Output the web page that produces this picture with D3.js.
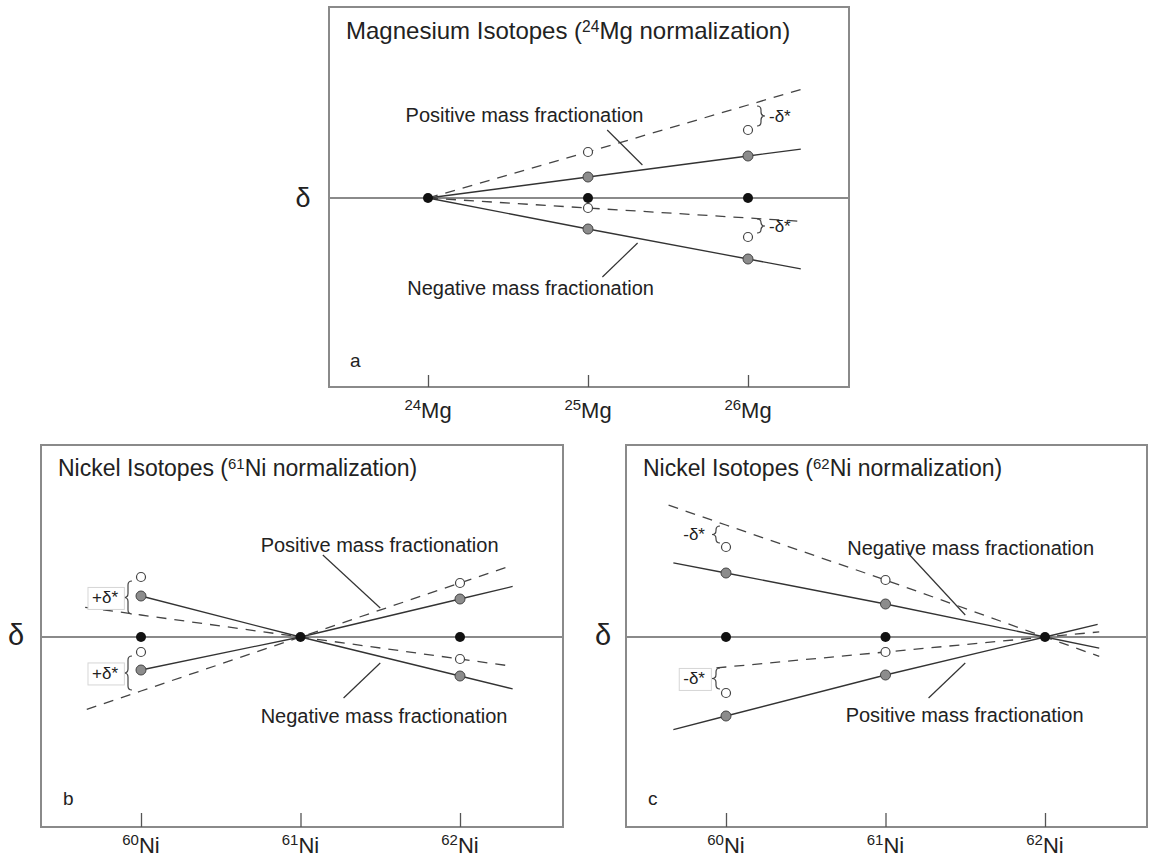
<!DOCTYPE html>
<html>
<head>
<meta charset="utf-8">
<script src="https://cdn.jsdelivr.net/npm/d3@7"></script>
<style>
  body { margin: 0; background: #fff; }
  text { font-family: "Liberation Sans", Arial, Helvetica, sans-serif; fill: #222; }
</style>
</head>
<body>
<svg id="fig" width="1149" height="858"></svg>
<script>
// ---------- isotopes and tick labels ----------
const mgIsotopes = [24, 25, 26];
const niIsotopes = [60, 61, 62];
const mgTickLabels = [["24", "Mg"], ["25", "Mg"], ["26", "Mg"]];
const niTickLabels = [["60", "Ni"], ["61", "Ni"], ["62", "Ni"]];

// ---------- panel a: 24Mg normalization (delta, arbitrary units) ----------
const aReference      = [0, 0, 0];
const aPositiveSolid  = [0, 2.1, 4.2];
const aPositiveDashed = [0, 4.6, 9.3];
const aPositiveOpen   = [null, 4.6, 6.8];
const aNegativeDashed = [0, -1.0, -2.0];
const aNegativeOpen   = [null, -1.0, -3.9];
const aNegativeSolid  = [0, -3.1, -6.1];

// ---------- panel b: 61Ni normalization ----------
const bReference      = [0, 0, 0];
const bNegativeSolid  = [4.1, 0, -3.9];
const bNegativeDashed = [2.2, 0, -2.2];
const bNegativeOpen   = [6.0, null, -2.2];
const bPositiveSolid  = [-3.3, 0, 3.8];
const bPositiveDashed = [-5.4, 0, 5.4];
const bPositiveOpen   = [-1.5, null, 5.4];

// ---------- panel c: 62Ni normalization ----------
const cReference      = [0, 0, 0];
const cNegativeSolid  = [6.4, 3.3, 0];
const cNegativeDashed = [11.2, 5.7, 0];
const cNegativeOpen   = [9.0, 5.7, null];
const cPositiveSolid  = [-7.9, -3.8, 0];
const cPositiveDashed = [-3.0, -1.5, 0];
const cPositiveOpen   = [-5.6, -1.5, null];

// ---------- panel layout ----------
const panels = [
  {
    box: { x0: 329, y0: 7, x1: 849, y1: 387 },
    xRange: [428, 748], baseY: 198, refIndex: 0,
    isotopes: mgIsotopes, tickLabels: mgTickLabels, tickLen: 12, tickLabelDy: 31,
    title: { pre: "Magnesium Isotopes (", sup: "24", post: "Mg normalization)", x: 346, y: 39, size: 24 },
    delta: { x: 303, y: 207, size: 27 },
    letter: { text: "a", x: 350, y: 367 },
    reference: aReference,
    lines: [
      { values: aPositiveSolid, extent: [24, 26.33] },
      { values: aPositiveDashed, extent: [24, 26.33], dashed: true },
      { values: aNegativeDashed, extent: [24, 26.33], dashed: true },
      { values: aNegativeSolid, extent: [24, 26.33] }
    ],
    open: [aPositiveOpen, aNegativeOpen],
    brackets: [
      { i: 2, open: aPositiveOpen, line: aPositiveDashed, dir: 1, dx: 9, text: "-δ*", tdx: 21, boxed: false },
      { i: 2, open: aNegativeOpen, line: aNegativeDashed, dir: 1, dx: 9, text: "-δ*", tdx: 21, boxed: false }
    ],
    notes: [
      { text: "Positive mass fractionation", at: [23.86, 7.6], leader: [[25.12, 6.8], [25.34, 3.3]] },
      { text: "Negative mass fractionation", at: [23.87, -9.7], leader: [[25.09, -7.9], [25.31, -4.5]] }
    ]
  },
  {
    box: { x0: 41, y0: 445, x1: 563, y1: 827 },
    xRange: [141, 460], baseY: 637, refIndex: 1,
    isotopes: niIsotopes, tickLabels: niTickLabels, tickLen: 14, tickLabelDy: 26,
    title: { pre: "Nickel Isotopes (", sup: "61", post: "Ni normalization)", x: 58, y: 476, size: 23 },
    delta: { x: 16, y: 645, size: 29 },
    letter: { text: "b", x: 63, y: 805 },
    reference: bReference,
    lines: [
      { values: bNegativeSolid, extent: [60, 62.33] },
      { values: bNegativeDashed, extent: [59.65, 62.33], dashed: true },
      { values: bPositiveSolid, extent: [60, 62.33] },
      { values: bPositiveDashed, extent: [59.66, 62.33], dashed: true }
    ],
    open: [bNegativeOpen, bPositiveOpen],
    brackets: [
      { i: 0, open: bNegativeOpen, line: bNegativeDashed, dir: -1, dx: -9, text: "+δ*", tdx: -23, boxed: true },
      { i: 0, open: bPositiveOpen, line: bPositiveDashed, dir: -1, dx: -9, text: "+δ*", tdx: -23, boxed: true }
    ],
    notes: [
      { text: "Positive mass fractionation", at: [60.75, 8.5], leader: [[61.14, 8.2], [61.5, 2.9]] },
      { text: "Negative mass fractionation", at: [60.75, -8.6], leader: [[61.27, -6.1], [61.5, -2.6]] }
    ]
  },
  {
    box: { x0: 626, y0: 445, x1: 1147, y1: 827 },
    xRange: [726, 1045], baseY: 637, refIndex: 2,
    isotopes: niIsotopes, tickLabels: niTickLabels, tickLen: 14, tickLabelDy: 26,
    title: { pre: "Nickel Isotopes (", sup: "62", post: "Ni normalization)", x: 643, y: 476, size: 23 },
    delta: { x: 603, y: 645, size: 29 },
    letter: { text: "c", x: 648, y: 805 },
    reference: cReference,
    lines: [
      { values: cNegativeSolid, extent: [59.67, 62.34] },
      { values: cNegativeDashed, extent: [59.64, 62.34], dashed: true },
      { values: cPositiveSolid, extent: [59.67, 62.33] },
      { values: cPositiveDashed, extent: [59.94, 62.34], dashed: true }
    ],
    open: [cNegativeOpen, cPositiveOpen],
    brackets: [
      { i: 0, open: cNegativeOpen, line: cNegativeDashed, dir: -1, dx: -6, text: "-δ*", tdx: -21, boxed: false },
      { i: 0, open: cPositiveOpen, line: cPositiveDashed, dir: -1, dx: -6, text: "-δ*", tdx: -21, boxed: true }
    ],
    notes: [
      { text: "Negative mass fractionation", at: [60.76, 8.2], leader: [[61.14, 8.4], [61.5, 2.2]] },
      { text: "Positive mass fractionation", at: [60.75, -8.5], leader: [[61.27, -6.1], [61.5, -2.6]] }
    ]
  }
];

const svg = d3.select("#fig");
const FRAME = "#8a8a8a";
const INK = "#333";

// vertical curly brace; dir = 1 points right "}", dir = -1 points left "{"
function brace(x, y1, y2, dir) {
  const w = 4 * dir, mid = (y1 + y2) / 2;
  const r = Math.min(4, Math.abs(y2 - y1) / 4);
  return `M${x},${y1} Q${x + w},${y1} ${x + w},${y1 + r} L${x + w},${mid - r} ` +
         `Q${x + w},${mid} ${x + 2 * w},${mid} Q${x + w},${mid} ${x + w},${mid + r} ` +
         `L${x + w},${y2 - r} Q${x + w},${y2} ${x},${y2}`;
}

panels.forEach(p => {
  const g = svg.append("g");
  const iso = p.isotopes;
  const x = d3.scaleLinear().domain([iso[0], iso[iso.length - 1]]).range(p.xRange);
  const y = d3.scaleLinear().domain([0, 1]).range([p.baseY, p.baseY - 10]);

  // frame
  g.append("rect")
    .attr("x", p.box.x0).attr("y", p.box.y0)
    .attr("width", p.box.x1 - p.box.x0).attr("height", p.box.y1 - p.box.y0)
    .attr("fill", "none").attr("stroke", FRAME).attr("stroke-width", 2);

  // zero line
  g.append("line")
    .attr("x1", p.box.x0).attr("x2", p.box.x1)
    .attr("y1", y(0)).attr("y2", y(0))
    .attr("stroke", FRAME).attr("stroke-width", 2);

  // bottom axis with inward ticks
  const axis = d3.axisBottom(x).tickValues(iso).tickSize(-p.tickLen).tickFormat("");
  const ax = g.append("g").attr("transform", `translate(0,${p.box.y1})`).call(axis);
  ax.select(".domain").remove();
  ax.selectAll(".tick line").attr("stroke", "#555").attr("stroke-width", 1.3);

  // tick labels with superscript mass numbers
  iso.forEach((m, i) => {
    const t = g.append("text")
      .attr("x", x(m)).attr("y", p.box.y1 + p.tickLabelDy)
      .attr("text-anchor", "middle");
    t.append("tspan").attr("font-size", 15).attr("dy", -8).text(p.tickLabels[i][0]);
    t.append("tspan").attr("font-size", 22).attr("dy", 8).text(p.tickLabels[i][1]);
  });

  // title
  const tt = g.append("text").attr("x", p.title.x).attr("y", p.title.y).attr("font-size", p.title.size);
  tt.append("tspan").text(p.title.pre);
  tt.append("tspan").attr("font-size", p.title.size * 0.65).attr("dy", -p.title.size * 0.29).text(p.title.sup);
  tt.append("tspan").attr("dy", p.title.size * 0.29).text(p.title.post);

  // delta axis label and panel letter
  g.append("text").attr("x", p.delta.x).attr("y", p.delta.y)
    .attr("text-anchor", "middle").attr("font-size", p.delta.size).text("δ");
  g.append("text").attr("x", p.letter.x).attr("y", p.letter.y)
    .attr("font-size", 19).text(p.letter.text);

  // fractionation lines, extended beyond the data through the piecewise scale
  const lineGen = d3.line().x(d => x(d[0])).y(d => y(d[1]));
  p.lines.forEach(L => {
    const valueAt = d3.scaleLinear().domain(iso).range(L.values);
    const ms = [L.extent[0], ...iso.filter(m => m > L.extent[0] && m < L.extent[1]), L.extent[1]];
    g.append("path")
      .attr("d", lineGen(ms.map(m => [m, valueAt(m)])))
      .attr("fill", "none")
      .attr("stroke", L.dashed ? "#444" : INK)
      .attr("stroke-width", 1.3)
      .attr("stroke-dasharray", L.dashed ? "10,8" : null);
  });

  // leader lines and labels
  p.notes.forEach(n => {
    g.append("line")
      .attr("x1", x(n.leader[0][0])).attr("y1", y(n.leader[0][1]))
      .attr("x2", x(n.leader[1][0])).attr("y2", y(n.leader[1][1]))
      .attr("stroke", INK).attr("stroke-width", 1.2);
    g.append("text").attr("x", x(n.at[0])).attr("y", y(n.at[1]))
      .attr("font-size", 20).text(n.text);
  });

  // brackets marking delta*
  p.brackets.forEach(b => {
    const m = iso[b.i];
    const yLine = y(b.line[b.i]), yOpen = y(b.open[b.i]);
    const s = yOpen > yLine ? 1 : -1;
    const y1 = yLine + s * 1, y2 = yOpen - s * 4;
    const bx = x(m) + b.dx;
    g.append("path").attr("d", brace(bx, Math.min(y1, y2), Math.max(y1, y2), b.dir))
      .attr("fill", "none").attr("stroke", "#444").attr("stroke-width", 1.2);
    const lbl = g.append("text")
      .attr("x", x(m) + b.tdx).attr("y", (y1 + y2) / 2).attr("dy", "0.35em")
      .attr("font-size", 17)
      .attr("text-anchor", b.dir > 0 ? "start" : "end")
      .text(b.text);
    if (b.boxed) {
      const bb = lbl.node().getBBox();
      g.insert("rect", () => lbl.node())
        .attr("x", bb.x - 4).attr("y", bb.y - 1)
        .attr("width", bb.width + 10).attr("height", bb.height + 3)
        .attr("fill", "#fff").attr("stroke", "#d6d6d6").attr("stroke-width", 1);
    }
  });

  // reference points (black), fractionated points (grey), open points
  const solids = p.lines.filter(L => !L.dashed);
  solids.forEach(L => {
    g.selectAll(null).data(L.values.map((v, i) => [iso[i], v]).filter((d, i) => i !== p.refIndex))
      .join("circle")
      .attr("cx", d => x(d[0])).attr("cy", d => y(d[1])).attr("r", 5)
      .attr("fill", "#8c8c8c").attr("stroke", "#444").attr("stroke-width", 1);
  });
  p.open.forEach(arr => {
    g.selectAll(null).data(arr.map((v, i) => [iso[i], v]).filter(d => d[1] !== null))
      .join("circle")
      .attr("cx", d => x(d[0])).attr("cy", d => y(d[1])).attr("r", 4.5)
      .attr("fill", "#fff").attr("stroke", "#444").attr("stroke-width", 1.2);
  });
  g.selectAll(null).data(p.reference.map((v, i) => [iso[i], v]))
    .join("circle")
    .attr("cx", d => x(d[0])).attr("cy", d => y(d[1])).attr("r", 5)
    .attr("fill", "#111");
});
</script>
</body>
</html>
